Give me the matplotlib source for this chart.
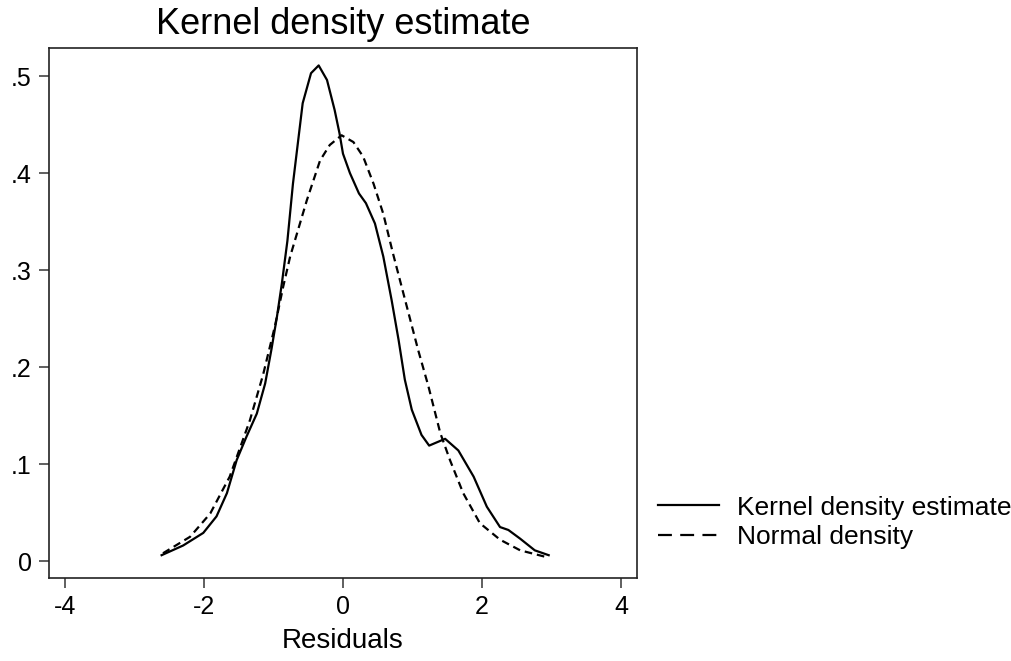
import matplotlib
matplotlib.use("Agg")
import matplotlib.pyplot as plt
from matplotlib.lines import Line2D

plt.rcParams['font.family'] = ['Liberation Sans', 'DejaVu Sans']
plt.rcParams['lines.scale_dashes'] = False

# kernel density estimate of the residuals
kde_x = [-2.61, -2.30, -2.01, -1.82, -1.67, -1.53, -1.39, -1.24, -1.12, -1.03,
         -0.95, -0.88, -0.80, -0.72, -0.58, -0.46, -0.35, -0.23, -0.12, -0.05,
         0.00, 0.10, 0.23, 0.33, 0.46, 0.58, 0.70, 0.80, 0.89, 0.99,
         1.13, 1.24, 1.47, 1.66, 1.88, 2.07, 2.26, 2.38, 2.55, 2.76, 2.96]
kde_y = [0.006, 0.016, 0.029, 0.046, 0.070, 0.104, 0.128, 0.152, 0.183, 0.218,
         0.252, 0.286, 0.330, 0.389, 0.472, 0.503, 0.511, 0.496, 0.465, 0.441,
         0.420, 0.400, 0.379, 0.369, 0.348, 0.314, 0.269, 0.228, 0.187, 0.156,
         0.130, 0.119, 0.126, 0.114, 0.087, 0.056, 0.035, 0.032, 0.023, 0.011, 0.006]

# normal density overlay
norm_x = [-2.59, -2.20, -1.91, -1.63, -1.34, -1.15, -0.98, -0.86, -0.76, -0.52,
          -0.33, -0.19, -0.02, 0.15, 0.29, 0.44, 0.58, 0.72, 0.92, 1.08,
          1.23, 1.40, 1.54, 1.73, 1.97, 2.26, 2.55, 2.93]
norm_y = [0.008, 0.025, 0.049, 0.087, 0.145, 0.192, 0.242, 0.283, 0.314, 0.372,
          0.413, 0.429, 0.439, 0.432, 0.417, 0.389, 0.358, 0.317, 0.262, 0.218,
          0.180, 0.132, 0.104, 0.070, 0.039, 0.022, 0.011, 0.004]

x_ticks = [-4, -2, 0, 2, 4]
y_ticks = [0, 0.1, 0.2, 0.3, 0.4, 0.5]
y_tick_labels = ['0', '.1', '.2', '.3', '.4', '.5']

fig = plt.figure(figsize=(10.11, 6.61), dpi=100)
ax = fig.add_axes([0.0485, 0.1256, 0.5815, 0.8018])

ax.plot(kde_x, kde_y, color='black', lw=1.6)
ax.plot(norm_x, norm_y, color='black', lw=1.6, dashes=(5.5, 3.5))

ax.set_xlim(-4.23, 4.23)
ax.set_ylim(-0.0175, 0.529)
ax.set_xticks(x_ticks)
ax.set_xticklabels([str(t) for t in x_ticks])
ax.set_yticks(y_ticks)
ax.set_yticklabels(y_tick_labels)
ax.tick_params(direction='out', length=7.5, width=1.2, color='#444444',
               labelsize=18, pad=5)

for s in ax.spines.values():
    s.set_color('#222222')
    s.set_linewidth(1.2)

ax.set_xlabel('Residuals', fontsize=20, labelpad=6)
ax.set_title('Kernel density estimate', fontsize=26, pad=10)

handles = [Line2D([], [], color='black', lw=1.6),
           Line2D([], [], color='black', lw=1.6, dashes=(10, 6))]
fig.legend(handles, ['Kernel density estimate', 'Normal density'],
           loc='center left', bbox_to_anchor=(0.651, 0.21),
           frameon=False, fontsize=19, handlelength=2.3, handletextpad=0.7,
           labelspacing=0.2, borderaxespad=0, borderpad=0)

fig.savefig('out.png', dpi=100)
